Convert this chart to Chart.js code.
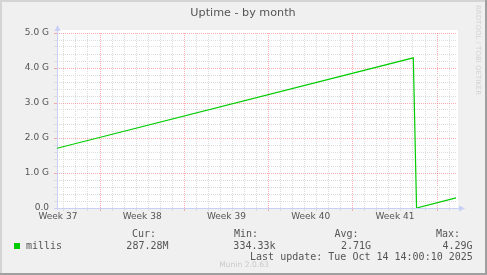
<!DOCTYPE html>
<html>
<head>
<meta charset="utf-8">
<script src="https://cdn.jsdelivr.net/npm/chart.js@4.4.1/dist/chart.umd.min.js"></script>
<style>
  html, body { margin: 0; padding: 0; background: #f0f0f0; }
  canvas { display: block; }
</style>
</head>
<body>
<canvas id="chart" width="487" height="275"></canvas>
<script>
// data (x in days from graph start)
const days = [0, 29.60, 29.87, 33.15];
const millis = [1.706e9, 4.29e9, 334330, 287.28e6];
const weekLabels = ['Week 37', 'Week 38', 'Week 39', 'Week 40', 'Week 41'];
const spanDays = 33.23;
const firstMonday = 3.573;   // day offset of the first week boundary

const legendHeads = ['Cur:', 'Min:', 'Avg:', 'Max:'];
const legendValues = ['287.28M', '334.33k', '2.71G', '4.29G'];
const lastUpdate = 'Last update: Tue Oct 14 14:00:10 2025';

const GREEN = '#00cc00';
const TEXT = '#555555';
const MINOR = '#dcdcdc';
const MAJOR = 'rgba(240,110,110,0.55)';
const AXIS = '#c8d0f6';

// half day steps, so week middles get a tick of their own for the labels
function halfStep(v) {
    return Math.round((v - firstMonday) * 2);
}

const frame = {
    id: 'frame',
    beforeDraw(chart) {
        const c = chart.ctx;
        const a = chart.chartArea;
        c.save();
        c.fillStyle = '#f0f0f0';
        c.fillRect(0, 0, 487, 275);
        c.fillStyle = '#d4d4d4';
        c.fillRect(0, 0, 487, 2);
        c.fillRect(0, 0, 2, 275);
        c.fillStyle = '#9f9f9f';
        c.fillRect(0, 273, 487, 2);
        c.fillRect(485, 0, 2, 275);
        c.fillStyle = '#ffffff';
        c.fillRect(a.left, a.top - 3, a.right - a.left + 1, a.bottom - a.top + 3);
        c.restore();
    },
    beforeDatasetsDraw(chart) {
        const c = chart.ctx;
        const a = chart.chartArea;
        c.save();
        c.strokeStyle = AXIS;
        c.fillStyle = AXIS;
        c.lineWidth = 1;
        c.beginPath();
        c.moveTo(a.left + 0.5, a.bottom + 2);
        c.lineTo(a.left + 0.5, a.top - 4);
        c.moveTo(a.left - 3, a.bottom + 0.5);
        c.lineTo(a.right + 3, a.bottom + 0.5);
        c.stroke();
        // arrows
        c.beginPath();
        c.moveTo(a.left + 0.5, a.top - 8);
        c.lineTo(a.left - 2.5, a.top - 2);
        c.lineTo(a.left + 3.5, a.top - 2);
        c.closePath();
        c.fill();
        c.beginPath();
        c.moveTo(a.right + 8, a.bottom + 0.5);
        c.lineTo(a.right + 2, a.bottom - 2.5);
        c.lineTo(a.right + 2, a.bottom + 3.5);
        c.closePath();
        c.fill();
        c.restore();
    },
    afterDraw(chart) {
        const c = chart.ctx;
        c.save();
        c.fillStyle = TEXT;
        c.textAlign = 'center';
        c.textBaseline = 'middle';
        c.font = '11.2px "DejaVu Sans"';
        c.fillText('Uptime - by month', 243, 13.5);

        // legend
        c.font = '10px "DejaVu Sans Mono"';
        c.textBaseline = 'alphabetic';
        c.textAlign = 'right';
        const headX = [156, 258, 358.5, 460];
        const valX = [168.5, 275.5, 371, 472.5];
        legendHeads.forEach((h, i) => c.fillText(h, headX[i], 236.8));
        legendValues.forEach((v, i) => c.fillText(v, valX[i], 248.5));
        c.fillText(lastUpdate, 472.8, 259.8);
        c.textAlign = 'left';
        c.fillText('millis', 26, 248.5);
        c.fillStyle = GREEN;
        c.fillRect(14, 243, 6, 6);

        // watermarks
        c.fillStyle = '#c9c9c9';
        c.textAlign = 'center';
        c.font = '7.6px "DejaVu Sans"';
        c.fillText('Munin 2.0.63', 244, 267);
        c.fillStyle = '#d2d2d2';
        c.font = '7px "DejaVu Sans"';
        c.translate(477.5, 5);
        c.rotate(Math.PI / 2);
        c.textAlign = 'left';
        c.textBaseline = 'middle';
        c.fillText('RRDTOOL / TOBI OETIKER', 0, 0);
        c.restore();
    }
};

const ctx = document.querySelector('#chart').getContext('2d');

new Chart(ctx, {
    type: 'line',
    data: {
        datasets: [{
            label: 'millis',
            data: days.map((d, i) => ({ x: d, y: millis[i] })),
            borderColor: GREEN,
            borderWidth: 1.2,
            pointRadius: 0,
            tension: 0,
            fill: false
        }]
    },
    options: {
        responsive: false,
        animation: false,
        devicePixelRatio: 1,
        layout: { padding: { top: 33, right: 30, left: 0, bottom: 0 } },
        plugins: {
            legend: { display: false },
            tooltip: { enabled: false },
            title: { display: false }
        },
        scales: {
            x: {
                type: 'linear',
                min: 0,
                max: spanDays,
                afterBuildTicks: (axis) => {
                    const ticks = [];
                    for (let k = -20; k <= 80; k++) {
                        const v = firstMonday + k / 2;
                        if (v >= 0 && v <= spanDays) ticks.push({ value: v });
                    }
                    axis.ticks = ticks;
                },
                afterFit: (axis) => { axis.height = 67; },
                grid: {
                    color: (c) => {
                        const k = halfStep(c.tick.value);
                        if (k % 2 !== 0) return 'rgba(0,0,0,0)';
                        return (k / 2) % 7 === 0 ? MAJOR : MINOR;
                    },
                    lineWidth: 1,
                    tickLength: 3
                },
                border: { display: false, dash: [1, 1] },
                ticks: {
                    autoSkip: false,
                    maxRotation: 0,
                    padding: 0,
                    color: TEXT,
                    font: { family: 'DejaVu Sans', size: 9 },
                    callback: (v) => {
                        const k = halfStep(v) + 7;
                        if (k % 14 !== 0) return '';
                        return weekLabels[k / 14] || '';
                    }
                }
            },
            y: {
                min: 0,
                max: 5e9,
                afterFit: (axis) => { axis.width = 57; },
                grid: {
                    color: (c) => Math.round(c.tick.value / 2e8) % 5 === 0 ? MAJOR : MINOR,
                    lineWidth: 1,
                    tickLength: 3
                },
                border: { display: false, dash: [1, 1] },
                ticks: {
                    stepSize: 2e8,
                    autoSkip: false,
                    padding: 5,
                    color: TEXT,
                    font: { family: 'DejaVu Sans', size: 9 },
                    callback: (v) => {
                        if (Math.round(v / 2e8) % 5 !== 0) return '';
                        return v === 0 ? '0.0' : (v / 1e9).toFixed(1) + ' G';
                    }
                }
            }
        }
    },
    plugins: [frame]
});
</script>
</body>
</html>
